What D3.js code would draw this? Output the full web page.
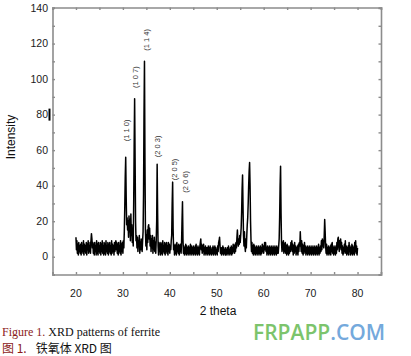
<!DOCTYPE html>
<html>
<head>
<meta charset="utf-8">
<script src="https://cdn.jsdelivr.net/npm/d3@7"></script>
<style>
  body { margin: 0; background: #fff; }
  svg { display: block; }
</style>
</head>
<body>
<script>
// XRD scan, 2theta from 20.0 to 80.0 in 0.1 degree steps (one row per degree)
const thetaStart = 20
const thetaStep = 0.1
const intensity = [
  11, 4, 9, 2, 7, 1, 8, 3, 6, 2,
  7, 1, 8, 3, 6, 2, 9, 1, 7, 3,
  6, 2, 8, 1, 7, 4, 9, 2, 6, 3,
  8, 2, 9, 13, 10, 5, 8, 2, 7, 1,
  8, 3, 6, 1, 9, 2, 7, 1, 8, 3,
  6, 2, 8, 1, 7, 3, 9, 2, 6, 1,
  8, 2, 7, 1, 9, 3, 6, 2, 8, 1,
  7, 3, 8, 2, 6, 1, 9, 2, 7, 3,
  6, 1, 8, 3, 7, 9, 4, 8, 2, 7,
  1, 8, 3, 6, 2, 9, 1, 7, 3, 8,
  2, 9, 5, 14, 28, 45, 56, 34, 18, 22,
  15, 20, 11, 23, 14, 21, 9, 24, 12, 18,
  8, 16, 6, 30, 62, 89, 55, 20, 9, 12,
  5, 11, 3, 9, 6, 12, 2, 8, 4, 10,
  6, 3, 9, 14, 35, 80, 110, 55, 15, 6,
  12, 4, 15, 8, 17, 18, 10, 16, 6, 12,
  3, 10, 5, 12, 2, 9, 4, 11, 3, 8,
  2, 9, 20, 52, 25, 6, 1, 8, 3, 7,
  1, 8, 2, 7, 1, 9, 3, 6, 2, 8,
  1, 7, 3, 8, 2, 6, 1, 8, 3, 7,
  2, 6, 4, 9, 12, 30, 42, 16, 4, 7,
  1, 6, 2, 7, 1, 8, 3, 6, 2, 7,
  1, 6, 3, 7, 2, 8, 20, 31, 10, 2,
  6, 1, 5, 2, 7, 1, 6, 2, 5, 1,
  6, 2, 5, 1, 7, 2, 6, 1, 5, 2,
  6, 1, 5, 2, 6, 1, 7, 2, 5, 1,
  6, 2, 5, 1, 6, 8, 10, 4, 7, 2,
  6, 3, 7, 1, 5, 2, 6, 1, 5, 2,
  5, 1, 6, 2, 5, 1, 6, 2, 4, 1,
  5, 2, 6, 1, 5, 2, 6, 1, 5, 2,
  4, 1, 6, 3, 8, 9, 11, 6, 2, 5,
  1, 5, 2, 6, 1, 5, 2, 4, 1, 5,
  1, 4, 2, 5, 1, 6, 2, 4, 1, 5,
  2, 6, 1, 5, 2, 7, 3, 6, 2, 7,
  3, 8, 5, 11, 15, 9, 6, 10, 7, 12,
  8, 12, 16, 25, 38, 46, 28, 12, 6, 14,
  6, 3, 10, 5, 12, 18, 22, 30, 40, 48,
  53, 40, 20, 9, 3, 8, 2, 6, 1, 7,
  2, 6, 1, 5, 2, 6, 1, 5, 2, 6,
  1, 5, 2, 6, 1, 5, 2, 7, 3, 6,
  2, 5, 8, 4, 8, 3, 5, 1, 6, 2,
  5, 1, 6, 2, 5, 1, 6, 2, 5, 1,
  6, 2, 5, 1, 6, 2, 5, 1, 6, 2,
  5, 2, 6, 10, 22, 40, 51, 25, 8, 3,
  8, 4, 9, 2, 7, 3, 8, 2, 6, 1,
  7, 2, 6, 1, 5, 2, 6, 3, 8, 4,
  9, 3, 7, 1, 6, 2, 8, 3, 6, 1,
  5, 2, 6, 1, 7, 3, 8, 6, 14, 7,
  3, 9, 2, 7, 1, 6, 2, 8, 3, 6,
  1, 5, 2, 6, 1, 5, 2, 6, 1, 5,
  2, 6, 1, 5, 2, 6, 1, 5, 2, 6,
  1, 5, 2, 6, 1, 5, 2, 7, 1, 5,
  2, 6, 3, 9, 4, 10, 6, 9, 5, 12,
  21, 14, 6, 2, 7, 1, 5, 2, 6, 1,
  5, 2, 6, 1, 7, 3, 8, 2, 5, 1,
  6, 2, 5, 1, 6, 2, 8, 4, 10, 11,
  7, 3, 9, 5, 10, 4, 8, 2, 6, 1,
  5, 2, 7, 3, 9, 2, 6, 1, 5, 2,
  6, 1, 8, 3, 6, 1, 5, 2, 7, 1,
  6, 2, 5, 1, 8, 3, 9, 2, 6, 1,
  5
]

// peak indices: label text, label centre (2theta), label start (intensity)
const peakLabels = ["(1 1 0)", "(1 0 7)", "(1 1 4)", "(2 0 3)", "(2 0 5)", "(2 0 6)"]
const peakTheta = [30.85, 32.6, 35.05, 37.45, 41.05, 43.4]
const peakAt = [65, 95, 116, 56, 43, 36]

const xTicks = [20, 30, 40, 50, 60, 70, 80]
const yTicks = [0, 20, 40, 60, 80, 100, 120, 140]

const width = 411
const height = 356
const box = { left: 52.5, right: 381, top: 7.5, bottom: 274.5 }

const svg = d3.select("body").append("svg")
  .attr("width", width)
  .attr("height", height)

const x = d3.scaleLinear().domain([15, 85]).range([box.left, box.right])
const y = d3.scaleLinear().domain([-10, 140.3]).range([box.bottom, box.top])

const axisColor = "#8c8c8c"

// frame axes, ticks pointing inward
const minorX = d3.range(15, 86, 5)
const minorY = d3.range(-10, 141, 10)

svg.append("g")
  .attr("transform", `translate(0,${box.bottom})`)
  .call(d3.axisTop(x).tickValues(minorX).tickSize(2.5).tickFormat(""))
svg.append("g")
  .attr("transform", `translate(0,${box.top})`)
  .call(d3.axisBottom(x).tickValues(minorX).tickSize(2.5).tickFormat(""))
svg.append("g")
  .attr("transform", `translate(${box.left},0)`)
  .call(d3.axisRight(y).tickValues(minorY).tickSize(2.5).tickFormat(""))
svg.append("g")
  .attr("transform", `translate(${box.right},0)`)
  .call(d3.axisLeft(y).tickValues(minorY).tickSize(2.5).tickFormat(""))

svg.selectAll(".domain").attr("stroke", axisColor).attr("stroke-width", 1.6)
svg.selectAll(".tick line").attr("stroke", axisColor).attr("stroke-width", 1.4)

// major tick labels
svg.append("g")
  .selectAll("text")
  .data(xTicks)
  .join("text")
  .attr("x", d => x(d))
  .attr("y", 297)
  .attr("text-anchor", "middle")
  .style("font-family", "Liberation Sans, Arial, sans-serif")
  .style("font-size", "10.5px")
  .attr("fill", "#1a1a1a")
  .text(d => d)

svg.append("g")
  .selectAll("text")
  .data(yTicks)
  .join("text")
  .attr("x", 48)
  .attr("y", d => y(d) + 3.5)
  .attr("text-anchor", "end")
  .style("font-family", "Liberation Sans, Arial, sans-serif")
  .style("font-size", "10.5px")
  .attr("fill", "#1a1a1a")
  .text(d => d)

// stray mark beside the 80 label
svg.append("rect")
  .attr("x", 48.5)
  .attr("y", y(80) - 6)
  .attr("width", 2)
  .attr("height", 12)
  .attr("fill", "#000")

// pattern
const line = d3.line()
  .x((d, i) => x(thetaStart + i * thetaStep))
  .y(d => y(d))

svg.append("path")
  .datum(intensity)
  .attr("d", line)
  .attr("fill", "none")
  .attr("stroke", "#000")
  .attr("stroke-width", 1.5)
  .attr("stroke-linejoin", "round")

// peak labels, rotated
svg.append("g")
  .selectAll("text")
  .data(peakLabels)
  .join("text")
  .attr("transform", (d, i) => `translate(${x(peakTheta[i]) + 2.5},${y(peakAt[i])}) rotate(-90)`)
  .style("font-family", "Liberation Sans, Arial, sans-serif")
  .style("font-size", "7.5px")
  .attr("fill", "#333")
  .text(d => d)

// axis titles
svg.append("text")
  .attr("transform", `translate(15,${137}) rotate(-90)`)
  .attr("text-anchor", "middle")
  .style("font-family", "Liberation Sans, Arial, sans-serif")
  .style("font-size", "12px")
  .attr("fill", "#111")
  .text("Intensity")

svg.append("text")
  .attr("x", 218)
  .attr("y", 315)
  .attr("text-anchor", "middle")
  .style("font-family", "Liberation Sans, Arial, sans-serif")
  .style("font-size", "12px")
  .attr("fill", "#111")
  .text("2 theta")

// caption
const cap1 = svg.append("text")
  .attr("x", 2)
  .attr("y", 336)
  .style("font-family", "Liberation Serif, Times New Roman, serif")
  .style("font-size", "12px")
cap1.append("tspan").attr("fill", "#8b1a1a").text("Figure 1. ")
cap1.append("tspan").attr("fill", "#111").text("XRD patterns of ferrite")

const cap2 = svg.append("text")
  .attr("x", 2)
  .attr("y", 352.5)
  .style("font-family", "Noto Sans CJK SC, Liberation Serif, serif")
  .style("font-size", "12px")
  .style("white-space", "pre")
cap2.append("tspan").attr("fill", "#8b1a1a").text("图 1.")
cap2.append("tspan").attr("fill", "#111").attr("dx", 9).text("铁氧体 XRD 图")

// watermark
const mark = svg.append("text")
  .attr("x", 253)
  .attr("y", 340)
  .style("font-family", "Open Sans, Noto Sans, sans-serif")
  .style("font-size", "21px")
  .style("font-weight", "600")
mark.append("tspan").attr("fill", "#7cc46c").text("FRPAPP")
mark.append("tspan").attr("fill", "#74a9dc").text(".COM")
</script>
</body>
</html>
